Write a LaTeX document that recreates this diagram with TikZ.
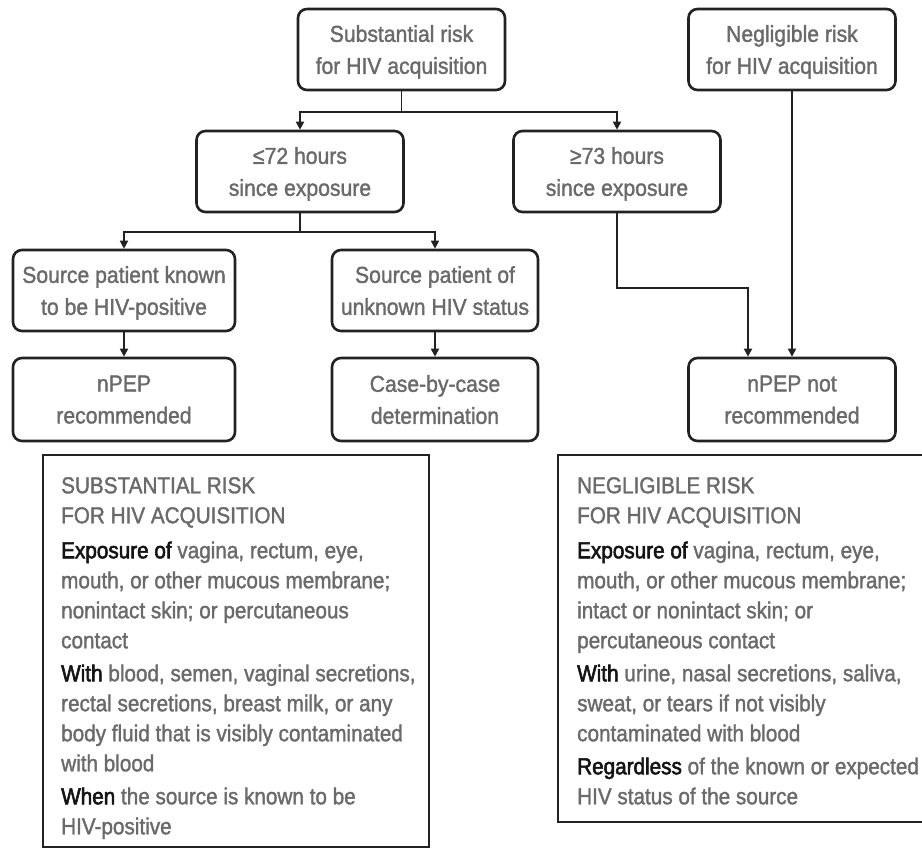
\documentclass[tikz,border=0pt]{standalone}
\usepackage{fontspec}
\setmainfont{Liberation Sans}[FakeStretch=0.92, FakeBold=1.5]
\newfontfamily\infofont{Liberation Sans}[FakeStretch=0.9, FakeBold=1.5]
\usetikzlibrary{arrows.meta}
\definecolor{txtgrey}{HTML}{6A6A6A}
\definecolor{bordk}{HTML}{222222}
\newcommand{\bk}[1]{{\addfontfeature{FakeBold=2.5}\textcolor{black!92}{#1}}}
\begin{document}
\begin{tikzpicture}[x=1pt,y=-1pt,
  fbox/.style={draw=bordk, line width=2.6pt, rounded corners=9pt, minimum height=81pt,
    align=center, text=txtgrey, font=\fontsize{23}{32}\selectfont, inner sep=0pt, text depth=-3pt},
  arr/.style={draw=bordk, line width=1.8pt, -{Triangle[width=8pt,length=8pt]}},
  infobox/.style={draw=bordk, line width=2.4pt},
  infotext/.style={align=left, text=txtgrey, font=\infofont\fontsize{23}{30}\selectfont, inner sep=0pt, anchor=north west}
]
\path[use as bounding box] (0,0) rectangle (922,848);
\clip (0,0) rectangle (922,848);

\node[fbox, minimum width=207pt] (top) at (401.5,49.5) {Substantial risk\\for HIV acquisition};
\node[fbox, minimum width=207pt] (neg) at (792,49.5) {Negligible risk\\for HIV acquisition};
\node[fbox, minimum width=207pt] (le) at (300,171.5) {≤72 hours\\since exposure};
\node[fbox, minimum width=207pt] (ge) at (617,171.5) {≥73 hours\\since exposure};
\node[fbox, minimum width=222pt] (known) at (124,290.5) {Source patient known\\to be HIV-positive};
\node[fbox, minimum width=206pt] (unk) at (435,290.5) {Source patient of\\unknown HIV status};
\node[fbox, minimum width=222pt, minimum height=83pt] (rec) at (124,399.5) {nPEP\\recommended};
\node[fbox, minimum width=206pt, minimum height=83pt] (case) at (435,399.5) {Case-by-case\\determination};
\node[fbox, minimum width=207pt, minimum height=83pt] (notrec) at (792,399.5) {nPEP not\\recommended};

\coordinate (s1) at (401.5,112);
\draw[arr] (top.south) -- (s1) -| (le.north);
\draw[arr] (s1) -| (ge.north);
\coordinate (s2) at (300,232);
\draw[arr] (le.south) -- (s2) -| (known.north);
\draw[arr] (s2) -| (unk.north);
\draw[arr] (known.south) -- (rec.north);
\draw[arr] (unk.south) -- (case.north);
\coordinate (e1) at (748,288);
\draw[arr] (ge.south) |- (e1) -- (e1 |- notrec.north);
\draw[arr] (neg.south) -- (notrec.north);

\draw[infobox] (43,455) rectangle (429,847);
\draw[infobox] (558,455) rectangle (940,822);

\node[infotext] (lt) at (61,477) {SUBSTANTIAL RISK\\
FOR HIV ACQUISITION\\[5pt]
\bk{Exposure of} vagina, rectum, eye,\\
mouth, or other mucous membrane;\\
nonintact skin; or percutaneous\\
contact\\[3pt]
\bk{With} blood, semen, vaginal secretions,\\
rectal secretions, breast milk, or any\\
body fluid that is visibly contaminated\\
with blood\\[3pt]
\bk{When} the source is known to be\\
HIV-positive};

\node[infotext] (rt) at (577,477) {NEGLIGIBLE RISK\\
FOR HIV ACQUISITION\\[5pt]
\bk{Exposure of} vagina, rectum, eye,\\
mouth, or other mucous membrane;\\
intact or nonintact skin; or\\
percutaneous contact\\[3pt]
\bk{With} urine, nasal secretions, saliva,\\
sweat, or tears if not visibly\\
contaminated with blood\\[3pt]
\bk{Regardless} of the known or expected\\
HIV status of the source};
\end{tikzpicture}
\end{document}
